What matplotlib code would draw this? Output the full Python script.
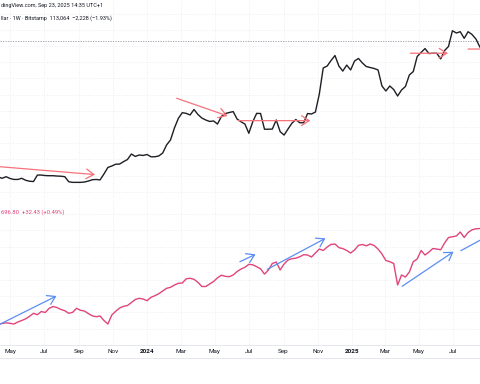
import matplotlib
matplotlib.use('Agg')
import matplotlib.pyplot as plt
import matplotlib.dates as mdates
import pandas as pd

plt.rcParams['font.family'] = ['Roboto', 'DejaVu Sans']

# weekly bars (Monday open time), Apr 2023 -> Aug 2025
weeks = pd.date_range('2023-04-10', periods=125, freq='7D')

# Bitcoin / U.S. Dollar, weekly close (thousands)
btc_k = [29.1, 28.3, 29.3, 28.2, 27.6, 27.6, 28.3, 27.1, 26.5, 26.3,
         30.3, 30.3, 30.0, 29.9, 29.9, 29.7, 29.6, 29.3, 26.2, 25.8,
         25.8, 25.8, 26.0, 26.6, 27.4, 27.6, 27.3, 31.0, 35.0, 35.9,
         37.0, 37.1, 38.6, 39.9, 43.3, 41.8, 42.7, 42.4, 43.0, 41.6,
         41.6, 42.1, 43.9, 48.9, 52.0, 59.4, 65.3, 68.8, 68.4, 67.4,
         70.8, 67.7, 65.5, 64.3, 63.4, 63.7, 61.8, 66.5, 68.3, 68.9,
         69.5, 64.9, 63.2, 61.8, 56.1, 63.2, 68.4, 68.3, 58.6, 58.6,
         58.7, 64.3, 57.1, 55.0, 58.7, 62.3, 64.6, 62.6, 62.6, 68.3,
         68.0, 69.2, 80.3, 96.4, 97.6, 101.0, 104.1, 97.6, 94.5, 98.2,
         95.2, 100.7, 102.3, 99.5, 97.3, 96.7, 96.1, 95.2, 85.3, 82.2,
         85.3, 83.1, 79.1, 82.8, 85.0, 92.1, 94.2, 103.5, 106.0, 108.4,
         105.3, 105.5, 105.5, 102.0, 107.2, 109.7, 119.4, 118.0, 118.8, 114.7,
         118.8, 117.1, 114.3, 109.4, 106.3]
btc = [v * 1000 for v in btc_k]
btc_last = 113064

# S&P 500, weekly close
spx = [4117, 4129, 4146, 4134, 4117, 4166, 4202, 4244, 4305, 4378,
       4344, 4422, 4398, 4500, 4544, 4519, 4471, 4441, 4378, 4402,
       4500, 4451, 4434, 4373, 4317, 4295, 4312, 4202, 4117, 4337,
       4427, 4507, 4549, 4568, 4641, 4715, 4744, 4727, 4685, 4768,
       4807, 4856, 4922, 4988, 5012, 5068, 5110, 5117, 5219, 5232,
       5207, 5134, 5032, 5032, 5093, 5154, 5244, 5307, 5280, 5271,
       5312, 5397, 5458, 5500, 5573, 5561, 5515, 5463, 5334, 5434,
       5593, 5629, 5434, 5580, 5678, 5710, 5722, 5756, 5807, 5800,
       5751, 5849, 5946, 5910, 5995, 6058, 6068, 5980, 5956, 5910,
       5849, 5922, 6036, 6056, 6024, 6068, 6032, 5946, 5824, 5666,
       5637, 5593, 5068, 5312, 5263, 5385, 5637, 5702, 5910, 5800,
       5873, 5958, 5946, 5927, 6093, 6227, 6246, 6263, 6361, 6227,
       6349, 6415, 6439, 6446, 6458]

# trend-line drawings: (start date, start value, end date, end value, head)
red_lines = [('2023-04-01', 35800, '2023-09-30', 30600, True),
             ('2024-02-23', 77700, '2024-05-24', 66800, True),
             ('2024-06-12', 63900, '2024-10-19', 63900, True),
             ('2025-04-16', 105500, '2025-06-22', 105500, True),
             ('2025-07-28', 108100, '2025-09-01', 108100, False)]
blue_lines = [('2023-04-08', 4078, '2023-07-23', 4800, True),
              ('2024-06-15', 5636, '2024-07-13', 5817, True),
              ('2024-08-03', 5451, '2024-11-15', 6207, True),
              ('2025-04-01', 5036, '2025-07-02', 5880, True),
              ('2025-07-15', 5905, '2025-08-30', 6246, False)]

tick_dates = pd.date_range('2023-05-01', '2025-07-01', freq='2MS')
tick_labels = [d.strftime('%Y') if d.month == 1 else d.strftime('%b') for d in tick_dates]

# legend texts as far as the screenshot shows them
header1 = 'dingView.com, Sep 23, 2025 14:35 UTC+1'
header2 = 'llar \u00b7 1W \u00b7 Bitstamp  113,064  \u22122,228 (\u22121.93%)'
header3 = '696.80  +32.43 (+0.49%)'

W, H = 480, 384
fig = plt.figure(figsize=(4.8, 3.84), dpi=100)
ax1 = fig.add_axes([0, 1 - 199 / H, 1, 199 / H])
ax2 = fig.add_axes([0, 1 - 345 / H, 1, (345 - 199) / H])

xlim = (mdates.date2num(pd.Timestamp('2023-04-13 03:00')),
        mdates.date2num(pd.Timestamp('2025-08-18 07:00')))
grid_c = '#eceef3'

for ax in (ax1, ax2):
    ax.set_xlim(xlim)
    for s in ax.spines.values():
        s.set_visible(False)
    ax.set_xticks(tick_dates)
    ax.tick_params(length=0)
    ax.set_yticks([])
    ax.grid(True, axis='x', color=grid_c, ls=':', lw=0.7)

ax1.set_ylim(15530, 138370)
for v in range(20000, 140000, 10000):
    ax1.axhline(v, color=grid_c, ls=':', lw=0.7, zorder=0)
ax1.set_xticklabels([])
ax1.axhline(btc_last, color='#9598a1', ls=(0, (1.5, 1.5)), lw=0.6)
ax1.plot(weeks, btc, color='#1e1e24', lw=1.0)

ax2.set_ylim(3605, 7166)
for v in range(4000, 7200, 400):
    ax2.axhline(v, color=grid_c, ls=':', lw=0.7, zorder=0)
ax2.plot(weeks, spx, color='#e0457b', lw=1.0)
ax2.set_xticklabels(tick_labels, fontsize=4.6, color='#131722')
ax2.tick_params(axis='x', pad=3)
for lbl, d in zip(ax2.get_xticklabels(), tick_dates):
    if d.month == 1:
        lbl.set_fontweight('bold')


def draw_lines(ax, lines, color):
    for x0, y0, x1, y1, head in lines:
        p0 = (mdates.date2num(pd.Timestamp(x0)), y0)
        p1 = (mdates.date2num(pd.Timestamp(x1)), y1)
        style = '->,head_length=0.55,head_width=0.35' if head else '-'
        ax.annotate('', xy=p1, xytext=p0, annotation_clip=False,
                    arrowprops=dict(arrowstyle=style, color=color, lw=0.9,
                                    shrinkA=0, shrinkB=0, mutation_scale=10))


draw_lines(ax1, red_lines, '#f7727a')
draw_lines(ax2, blue_lines, '#5b8ef5')

# borders of the time scale
fig.add_artist(plt.Line2D([0, 1], [1 - 345 / H] * 2, color='#e0e3eb', lw=0.6))
fig.add_artist(plt.Line2D([0, 1], [1 - 358 / H] * 2, color='#e0e3eb', lw=0.6))

fig.text(1 / W, 1 - 6 / H, header1, ha='left', va='center', fontsize=4, color='#131722')
fig.text(1 / W, 1 - 18 / H, header2, ha='left', va='center', fontsize=4, color='#131722')
fig.text(1 / W, 1 - 212 / H, header3, ha='left', va='center', fontsize=4.2, color='#e0457b')

fig.savefig('out.png', dpi=100)
